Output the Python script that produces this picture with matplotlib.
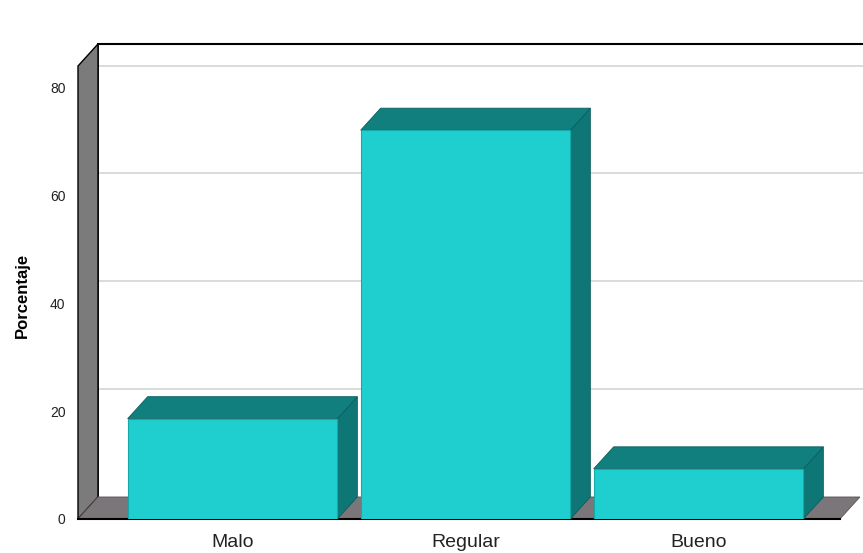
"""SPSS-style 3D bar chart: Porcentaje por categoria."""

import matplotlib

matplotlib.use('Agg')
import matplotlib.pyplot as plt
from matplotlib.patches import Polygon

categories = ['Malo', 'Regular', 'Bueno']
percent = [18.6, 72.1, 9.3]
y_ticks = [0, 20, 40, 60, 80]

plt.rcParams['font.family'] = ['Liberation Sans', 'DejaVu Sans']

W, H = 863, 553
fig = plt.figure(figsize=(W / 100, H / 100), dpi=100)

# front plane axes in pixel layout
left_px, right_px, bottom_px, top_px = 78, 863, 519, 44
ax = fig.add_axes([left_px / W, (H - bottom_px) / H,
                   (right_px - left_px) / W, (bottom_px - top_px) / H])

px_per_unit_y = 5.39
px_per_cat = 233.0
x0 = -(232.5 - left_px) / px_per_cat
x1 = x0 + (right_px - left_px) / px_per_cat
dx = 20 / px_per_cat
dy = 22 / px_per_unit_y
wall_h = 84.0
ytop = wall_h + dy
ax.set_xlim(x0, x1)
ax.set_ylim(0, ytop)
for s in ax.spines.values():
    s.set_visible(False)

# back wall grid lines
for v in y_ticks[1:]:
    ax.plot([x0 + dx, x1], [v + dy, v + dy], color='#d4d4d4', lw=1.2, zorder=1)
ax.plot([x0 + dx, x1], [ytop, ytop], color='black', lw=1.5, zorder=2, clip_on=False)
ax.plot([x0 + dx, x0 + dx], [dy, ytop], color='black', lw=1.2, zorder=2)

# left wall
ax.add_patch(Polygon([(x0, 0), (x0, wall_h), (x0 + dx, ytop), (x0 + dx, dy)],
                     closed=True, facecolor='#7b7b7b', edgecolor='black', lw=1.0,
                     zorder=3, clip_on=False))

# floor
xf = 2.607
ax.add_patch(Polygon([(x0, 0), (xf, 0), (xf + dx, dy), (x0 + dx, dy)],
                     closed=True, facecolor='#7a767a', edgecolor='#555555', lw=0.6,
                     zorder=3, clip_on=False))
ax.plot([x0, xf], [0, 0], color='black', lw=1.5, zorder=3, clip_on=False)

# bars
bw = 0.9
for i, h in enumerate(percent):
    xl, xr = i - bw / 2, i + bw / 2
    side = Polygon([(xr, 0), (xr, h), (xr + dx, h + dy), (xr + dx, dy)],
                   closed=True, facecolor='#0f7676', edgecolor='#0a5e5e', lw=0.6, zorder=4)
    top = Polygon([(xl, h), (xr, h), (xr + dx, h + dy), (xl + dx, h + dy)],
                  closed=True, facecolor='#127f7f', edgecolor='#0a5e5e', lw=0.6, zorder=4)
    ax.add_patch(side)
    ax.add_patch(top)
    ax.bar(i, h, width=bw, color='#1fcfcf', edgecolor='#17a9a9', lw=0.8, zorder=5)

ax.set_xticks(range(len(categories)))
ax.set_xticklabels(categories, fontsize=14, color='#222222')
ax.set_yticks(y_ticks)
ax.set_yticklabels([str(v) for v in y_ticks], fontsize=10, color='#222222')
ax.tick_params(axis='both', length=0)
ax.tick_params(axis='x', pad=11)
ax.tick_params(axis='y', pad=9)
ax.set_ylabel('Porcentaje', fontsize=12, fontweight='bold')
ax.yaxis.set_label_coords(-0.061, 0.4716)

fig.savefig('out.png', dpi=100, facecolor='white')
